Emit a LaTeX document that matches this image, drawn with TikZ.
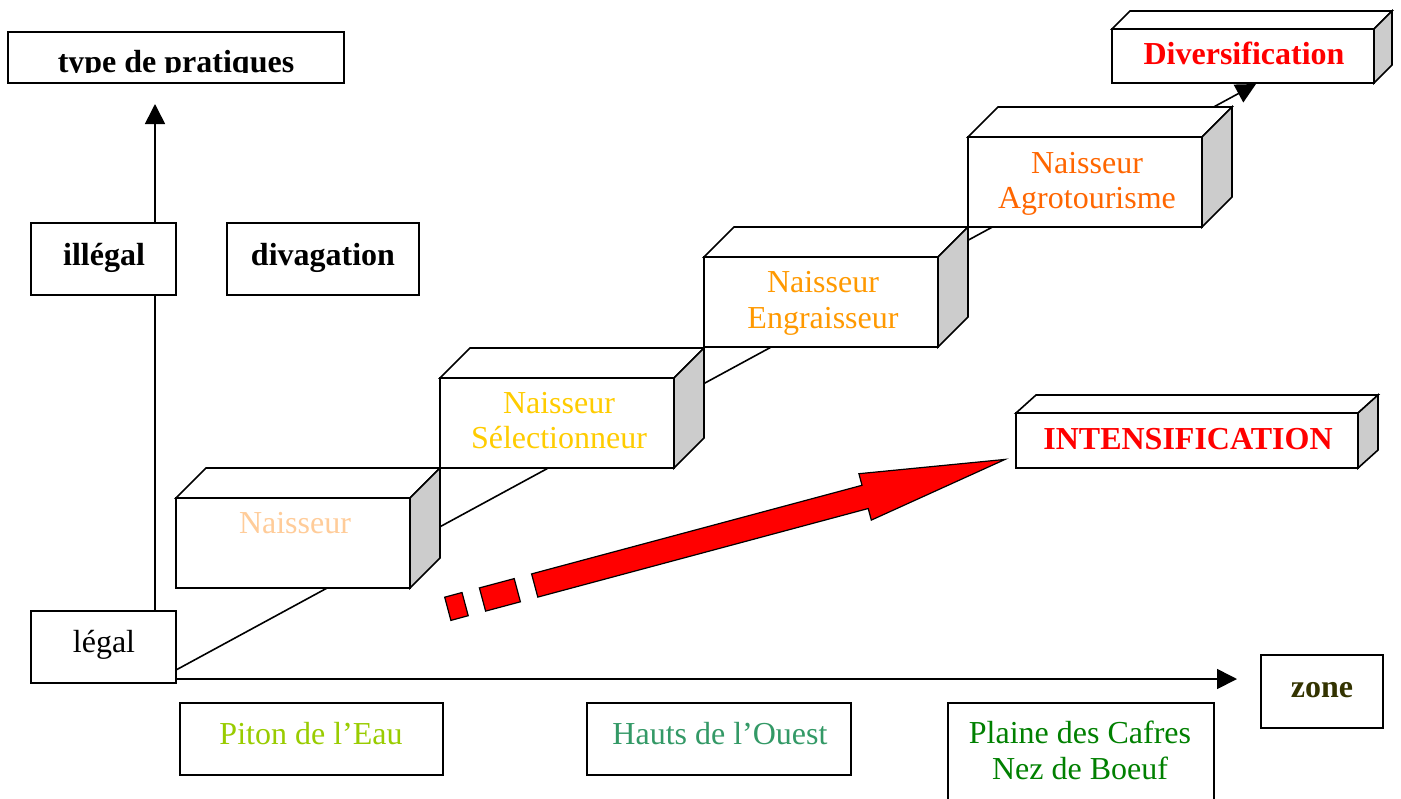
\documentclass[tikz,border=0pt]{standalone}
\usepackage{fontspec}
\setmainfont{Liberation Serif}
\usetikzlibrary{arrows.meta,calc}
\definecolor{peach}{HTML}{FFCC99}
\definecolor{goldc}{HTML}{FFCC00}
\definecolor{orangec}{HTML}{FF9900}
\definecolor{darkorange}{HTML}{FF6600}
\definecolor{redc}{HTML}{FF0000}
\definecolor{ygreen}{HTML}{99CC00}
\definecolor{sgreen}{HTML}{339966}
\definecolor{dgreen}{HTML}{008000}
\definecolor{olivec}{HTML}{333300}
\definecolor{sidegray}{HTML}{CCCCCC}
\newcommand{\cubefaces}[3]{%
  \filldraw[boxline,fill=white] (#1.north west) -- ++(#2,-#3) -- ($(#1.north east)+(#2,-#3)$) -- (#1.north east) -- cycle;
  \filldraw[boxline,fill=sidegray] (#1.north east) -- ++(#2,-#3) -- ($(#1.south east)+(#2,-#3)$) -- (#1.south east) -- cycle;
}
\begin{document}
\begin{tikzpicture}[x=0.5pt,y=-0.5pt,
  boxline/.style={draw=black,line width=0.8pt,line join=miter},
  flatbox/.style={boxline,fill=white,rectangle,inner sep=0pt,outer sep=0pt,anchor=north west},
  txt/.style={inner sep=0pt,anchor=base,font=\fontsize{16}{18}\selectfont},
  btxt/.style={txt,font=\fontsize{16}{18}\selectfont\bfseries},
  axis/.style={draw=black,line width=0.8pt,-{Triangle[length=10pt,width=10pt]}},
  redarrow/.style={fill=redc,draw=black,line width=0.6pt,line join=miter}]
\clip (0,0) rectangle (1401,798);
\fill[white] (0,0) rectangle (1401,798);

% flat boxes
\node[flatbox,minimum width=168pt,minimum height=25.5pt] (typebox) at (8,32) {};
\node[flatbox,minimum width=72.5pt,minimum height=36pt] (illegal) at (31,223) {};
\node[flatbox,minimum width=96pt,minimum height=36pt] (divag) at (227,223) {};
\node[flatbox,minimum width=72.5pt,minimum height=36pt] (legal) at (31,611) {};
\node[flatbox,minimum width=61pt,minimum height=36.5pt] (zone) at (1261,655) {};
\node[flatbox,minimum width=131.5pt,minimum height=36pt] (piton) at (180,703) {};
\node[flatbox,minimum width=132pt,minimum height=36pt] (hauts) at (587,703) {};
\node[flatbox,minimum width=133pt,minimum height=60pt] (plaine) at (948,703) {};

% axes
\coordinate (ytip) at (155,104);
\coordinate (xtip) at (1237,679);
\draw[axis] (legal.north -| ytip) -- (ytip);
\draw[boxline,fill=white] (illegal.north west) rectangle (illegal.south east);
\draw[axis] (legal.east |- xtip) -- (xtip);

% diagonal line
\coordinate (dstart) at (176,670);
\coordinate (dend) at (1256,84);
\draw[axis] (dstart) -- (dend);

% 3D boxes
\node[flatbox,minimum width=117pt,minimum height=45pt] (b4) at (968,137) {};
\cubefaces{b4}{30}{30}
\node[flatbox,minimum width=117pt,minimum height=45pt] (b3) at (704,257) {};
\cubefaces{b3}{30}{30}
\node[flatbox,minimum width=117pt,minimum height=45pt] (b2) at (440,378) {};
\cubefaces{b2}{30}{30}
\node[flatbox,minimum width=117pt,minimum height=45pt] (b1) at (176,498) {};
\cubefaces{b1}{30}{30}
\node[flatbox,minimum width=131pt,minimum height=27pt] (div) at (1112,29) {};
\cubefaces{div}{18}{18}
\node[flatbox,minimum width=171pt,minimum height=27.5pt] (int) at (1016,413) {};
\cubefaces{int}{20}{18}

% red arrow
\filldraw[redarrow] (531.6,573.9) -- (862.0,485.3) -- (858.9,473.7) -- (1005.1,459.4) -- (871.3,520.1) -- (868.2,508.5) -- (537.8,597.1) -- cycle;
\filldraw[redarrow] (479.4,587.9) -- (514.2,578.6) -- (520.4,601.8) -- (485.6,611.1) -- cycle;
\filldraw[redarrow] (444.7,597.2) -- (462.0,592.5) -- (468.2,615.7) -- (450.9,620.4) -- cycle;

% texts
\begin{scope}
\clip (8,32) rectangle (344,72);
\node[btxt] (ttype) at (176,72) {type de pratiques};
\end{scope}
\node[btxt] (tillegal) at (104,265) {illégal};
\node[btxt] (tdivag) at (323,265) {divagation};
\node[txt] (tlegal) at (104,652) {légal};
\node[btxt,text=olivec] (tzone) at (1322,697) {zone};
\node[txt,text=ygreen] (tpiton) at (311,744) {Piton de l’Eau};
\node[txt,text=sgreen] (thauts) at (720,744) {Hauts de l’Ouest};
\node[txt,text=dgreen] (tplaine1) at (1080,743) {Plaine des Cafres};
\node[txt,text=dgreen] (tplaine2) at (1080,779) {Nez de Boeuf};

\node[txt,text=peach] (tb1) at (295,533) {Naisseur};
\node[txt,text=goldc] (tb2a) at (559,413) {Naisseur};
\node[txt,text=goldc] (tb2b) at (559,448) {Sélectionneur};
\node[txt,text=orangec] (tb3a) at (823,292) {Naisseur};
\node[txt,text=orangec] (tb3b) at (823,328) {Engraisseur};
\node[txt,text=darkorange] (tb4a) at (1087,173) {Naisseur};
\node[txt,text=darkorange] (tb4b) at (1087,208) {Agrotourisme};
\node[btxt,text=redc] (tdiv) at (1244,64) {Diversification};
\node[btxt,text=redc] (tint) at (1188,449) {INTENSIFICATION};
\end{tikzpicture}
\end{document}
